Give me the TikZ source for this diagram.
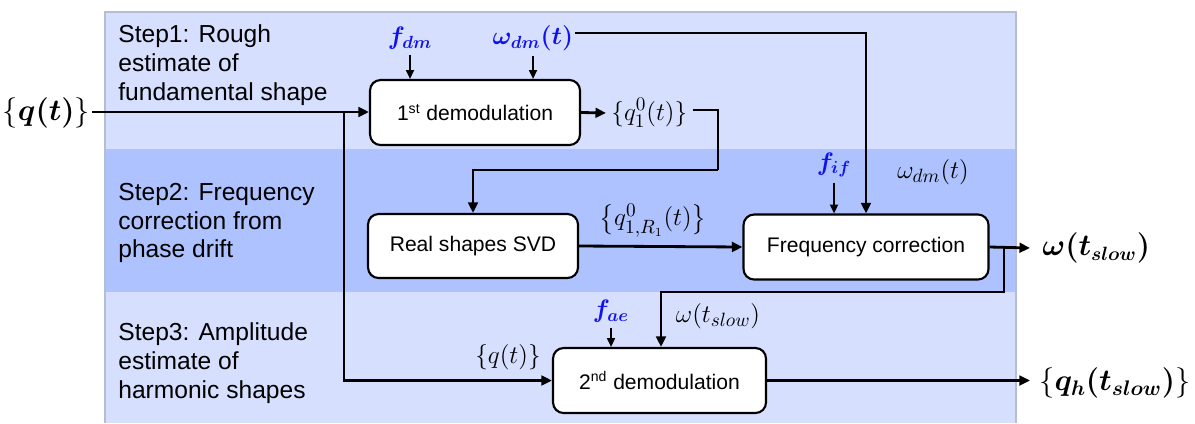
\documentclass[tikz,border=0pt]{standalone}
\usepackage{amsmath}
\usepackage{fontspec}
\setmainfont{Liberation Sans}
\usetikzlibrary{positioning, arrows.meta, calc}
\definecolor{bandlight}{HTML}{D6E0FE}
\definecolor{banddark}{HTML}{ADC2FE}
\definecolor{bandedge}{HTML}{B4BCD6}
\definecolor{parblue}{HTML}{1010F0}

\begin{document}
\begin{tikzpicture}[x=0.02cm, y=-0.02cm,
    block/.style={draw, line width=1.2pt, rounded corners=6pt, fill=white,
                  minimum width=4.2cm, minimum height=1.3cm,
                  font=\fontsize{12}{14}\selectfont},
    steptext/.style={anchor=west, align=left, inner sep=0pt,
                     font=\fontsize{14}{16.3}\selectfont},
    lab/.style={inner sep=1pt, font=\fontsize{15}{17}\selectfont},
    biglab/.style={inner sep=1pt, font=\fontsize{17}{20}\selectfont},
    param/.style={inner sep=1pt, text=parblue, font=\fontsize{14.5}{17}\selectfont},
    conn/.style={line width=1.6pt, -{Triangle[length=6pt,width=5.5pt]}},
    feed/.style={line width=1.1pt, -{Triangle[length=5pt,width=4.5pt]}}]
    \useasboundingbox (0,0) rectangle (1195,423);
    % bands
    \fill[bandlight] (105,12) rectangle (1016,149);
    \fill[banddark] (105,149) rectangle (1016,292);
    \fill[bandlight] (105,292) rectangle (1016,423);
    \draw[bandedge, line width=0.6pt] (105,423) |- (1016,12) -- (1016,423);
    \node[steptext] (stepA) at (118,65)
      {Step1: Rough\\ estimate of\\ fundamental shape};
    \node[steptext] (stepB) at (118,223)
      {Step2: Frequency\\ correction from\\ phase drift};
    \node[steptext] (stepC) at (118,363)
      {Step3: Amplitude\\ estimate of\\ harmonic shapes};
    % blocks
    \node[block] (demodA) at (475,112.5) {1\textsuperscript{st} demodulation};
    \node[block, minimum height=1.28cm] (svd) at (473,246) {Real shapes SVD};
    \node[block, minimum width=4.9cm] (freq) at (866,247) {Frequency correction};
    \node[block, minimum width=4.26cm] (demodB) at (659.5,380.5) {2\textsuperscript{nd} demodulation};
    % labels
    \node[biglab, anchor=east] (qin) at (92,113) {$\{\boldsymbol{q(t)}\}$};
    \node[param] (fdm) at (410,38) {$\boldsymbol{f_{dm}}$};
    \node[param] (wdm) at (533,38) {$\boldsymbol{\omega_{dm}(t)}$};
    \node[lab, anchor=west, inner xsep=0.1cm] (qone) at (606,113) {$\{q_1^0(t)\}$};
    \node[lab] (qR) at (653,221) {$\big\{q^0_{1,R_1}(t)\big\}$};
    \node[param] (fif) at (834,165) {$\boldsymbol{f_{if}}$};
    \node[lab] (wdmlab) at (933,172) {$\omega_{dm}(t)$};
    \node[biglab, font=\fontsize{16}{19}\selectfont, anchor=west, inner xsep=0.24cm]
      (wout) at (1030,248) {$\boldsymbol{\omega(t_{slow})}$};
    \node[param] (fae) at (611,311) {$\boldsymbol{f_{ae}}$};
    \node[lab] (wslow) at (718,316) {$\omega(t_{slow})$};
    \node[lab] (qt) at (508,357) {$\{q(t)\}$};
    \node[biglab, font=\fontsize{18}{21}\selectfont, anchor=west, inner xsep=0.18cm]
      (qh) at (1030,383) {$\{\boldsymbol{q_h(t_{slow})}\}$};
    % turning points
    \coordinate (brA) at (344,112);
    \coordinate (turnA) at (718,170);
    \coordinate (brB) at (1004,247);
    \coordinate (turnB) at (1004,292);
    % connectors
    \draw[conn] (qin.east |- brA) -- (demodA.west |- brA);
    \draw[conn] (brA) |- (demodB.west);
    \draw[conn] (demodA.east) -- (qone.west);
    \draw[line width=1.6pt] ([yshift=0.06cm]qone.east) -| (turnA);
    \draw[conn] (turnA) -| (svd.north);
    \draw[conn] ([yshift=0.1cm]wdm.east) -| (freq.north);
    \draw[conn] (svd.east) -- (freq.west);
    \draw[conn] (freq.east) -- (wout.west);
    \draw[conn] (brB) -- (turnB) -| ([xshift=0.03cm]demodB.north);
    \draw[conn] (demodB.east) -- (qh.west |- demodB.east);
    \draw[feed] ([yshift=-2pt]fdm.south) -- (fdm.south |- demodA.north);
    \draw[feed] ([yshift=-2pt]wdm.south) -- (wdm.south |- demodA.north);
    \draw[feed] ([yshift=-2pt]fif.south) -- (fif.south |- freq.north);
    \draw[feed] ([yshift=-2pt]fae.south) -- (fae.south |- demodB.north);
\end{tikzpicture}
\end{document}
